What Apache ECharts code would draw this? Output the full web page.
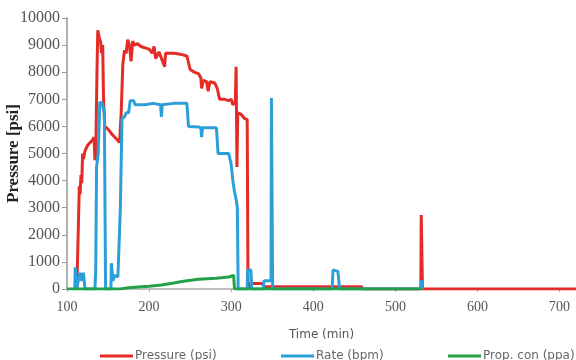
<!DOCTYPE html>
<html>
<head>
<meta charset="utf-8">
<script src="https://cdn.jsdelivr.net/npm/echarts@6/dist/echarts.min.js"></script>
<style>html,body{margin:0;padding:0;background:#fff;}#c{width:576px;height:360px;}</style>
</head>
<body>
<div id="c"></div>
<script>
// Time (min) / Pressure (psi)
const pressureTime = [112,113.5,115,116,117,118,119,120,122,125,128,131,133,134,135,136.5,137.5,139,141,142,143.5,144.5,146,150,155,160,164,166,168,170,172,174,176,178,180,182,186,190,195,200,204,206,208,212,219,220,230,240,246,250,255,260,263,264,266,270,272,274,280,283,286,292,297,300,302,305,306,307,308,312,316,319.5,320.5,323,338,340,459,460,531,531.5,532.5,533,720];
const pressureVal  = [0,0,3800,3500,4200,3900,5000,4800,5100,5300,5400,5500,5600,4750,5000,8000,9550,9300,9100,8700,9000,7000,6000,5900,5700,5550,5400,6500,8300,8800,8700,9200,9000,8400,9150,9000,9050,8950,8900,8850,8700,8950,8500,8750,8200,8700,8700,8650,8600,8100,8000,7950,7800,7400,7700,7650,7300,7650,7600,7400,7000,7000,6950,7000,6800,6900,8200,4500,6500,6450,6300,6250,0,200,200,80,80,0,0,2730,2730,0,0];
// Rate (bpm)
const rateTime = [109.5,110,111.5,112,113,116,118,120,122,134,135,136,138,140,143,145.5,147,153.5,154,155,156,158,162,163.5,165,167,170,172,175,177,181,183,195,205,214,215,216,230,246,248,260,263,264,265,282,284,297,300,302,304,306,307.5,308.5,319.5,320,324,325,339,340,348.5,349,350,350.5,423,424,430,432,531,532,533];
const rateVal  = [0,800,750,0,200,600,300,600,0,0,700,4500,5000,6900,6850,6500,0,0,950,900,300,500,450,400,3000,6300,6350,6500,6500,6950,6950,6800,6800,6850,6800,6350,6800,6850,6850,6000,5980,5950,5600,5950,5950,5000,5000,4600,4000,3600,3300,3000,0,0,700,700,0,0,300,300,7050,7050,0,0,700,650,0,0,330,0];
// Prop. con (ppa)
const propTime = [100,165,175,190,200,215,230,240,253,260,270,282,290,297,300,303,304,532];
const propVal  = [0,0,50,80,100,150,220,280,330,360,380,400,420,440,470,500,0,0];
// Axis ticks
const xTicks = [100,200,300,400,500,600,700];
const yTicks = [0,1000,2000,3000,4000,5000,6000,7000,8000,9000,10000];

const zip = (a,b) => a.map((t,i)=>[t,b[i]]);
const chart = echarts.init(document.getElementById('c'));
const legendCommon = {icon:'rect', itemWidth:33, itemHeight:3, itemGap:0, top:345,
  textStyle:{fontFamily:'DejaVu Sans', fontSize:12, color:'#666', padding:[0,0,0,-3]}};
chart.setOption({
  animation:false,
  backgroundColor:'#fff',
  grid:{left:67, right:0, top:18, bottom:71, containLabel:false, outerBoundsMode:'none'},
  legend:[
    Object.assign({}, legendCommon, {data:['Pressure (psi)'], left:95}),
    Object.assign({}, legendCommon, {data:['Rate (bpm)'], left:276}),
    Object.assign({}, legendCommon, {data:['Prop. con (ppa)'], left:443})
  ],
  xAxis:{type:'value', min:100, max:720, interval:100,
    name:'Time (min)', nameLocation:'middle', nameGap:40, nameMoveOverlap:false,
    nameTextStyle:{fontFamily:'DejaVu Sans', fontSize:12, color:'#555'},
    axisLine:{lineStyle:{color:'#aaa', width:1.5}},
    axisTick:{show:true, length:3, lineStyle:{color:'#aaa'}},
    axisLabel:{showMaxLabel:false, fontFamily:'Liberation Serif', fontSize:14, color:'#555', margin:11,
      formatter:v=> xTicks.includes(v) ? String(v) : ''},
    splitLine:{show:false}},
  yAxis:{type:'value', min:0, max:10000, interval:1000,
    name:'Pressure [psi]', nameLocation:'middle', nameGap:45, nameRotate:90, nameMoveOverlap:false,
    nameTextStyle:{fontFamily:'Liberation Serif', fontWeight:'bold', fontSize:17, color:'#222'},
    axisLine:{show:true, lineStyle:{color:'#999', width:1.5}},
    axisTick:{show:true, length:5, lineStyle:{color:'#999'}},
    axisLabel:{fontFamily:'Liberation Serif', fontSize:16, color:'#555', margin:7,
      formatter:v=> yTicks.includes(v) ? String(v) : ''},
    splitLine:{show:false}},
  series:[
    {name:'Pressure (psi)', type:'line', data:zip(pressureTime,pressureVal), showSymbol:false,
      lineStyle:{color:'#e42b26', width:3}, itemStyle:{color:'#e42b26'}},
    {name:'Rate (bpm)', type:'line', data:zip(rateTime,rateVal), showSymbol:false,
      lineStyle:{color:'#2b9fd8', width:3}, itemStyle:{color:'#2b9fd8'}},
    {name:'Prop. con (ppa)', type:'line', data:zip(propTime,propVal), showSymbol:false,
      lineStyle:{color:'#22a148', width:3}, itemStyle:{color:'#22a148'}}
  ]
});
</script>
</body>
</html>
